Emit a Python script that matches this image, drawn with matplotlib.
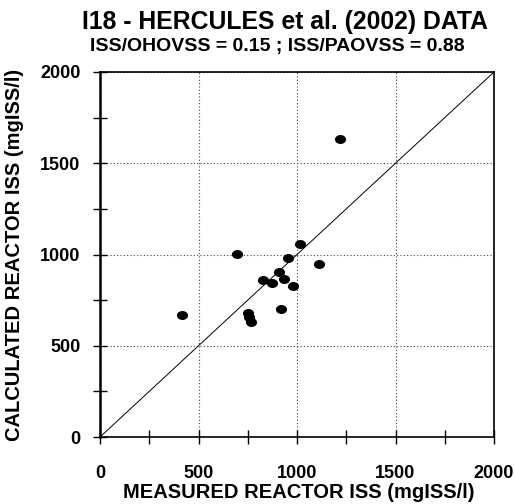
import numpy as np
import matplotlib
matplotlib.use("Agg")
import matplotlib.pyplot as plt
from matplotlib.path import Path
from matplotlib.transforms import Affine2D

# =========================
# 1. Data
# =========================
measured_iss = [415, 694, 1017, 956, 1113, 907, 932, 827, 873, 981, 919, 750, 755, 765, 1218]
calculated_iss = [668, 1003, 1056, 979, 950, 906, 867, 862, 844, 829, 701, 680, 658, 632, 1635]

axis_ticks = [0, 500, 1000, 1500, 2000]
minor_ticks = [250, 750, 1250, 1750]
one_to_one = [0, 2000]

title = "I18 - HERCULES et al. (2002) DATA"
subtitle = "ISS/OHOVSS = 0.15 ; ISS/PAOVSS = 0.88"
x_label = "MEASURED REACTOR ISS (mgISS/l)"
y_label = "CALCULATED REACTOR ISS (mgISS/l)"

plt.rcParams["font.family"] = ["Liberation Sans", "DejaVu Sans"]
plt.rcParams["font.weight"] = "bold"

# ================
# 2. Figure / axes
# ================
fig = plt.figure(figsize=(5.15, 5.04), dpi=100)
ax = fig.add_axes([100 / 515, (504 - 437) / 504, 394 / 515, 365 / 504])

# flattened ellipse marker
ellipse = Path.unit_circle().transformed(Affine2D().scale(1.0, 0.78))

ax.plot(one_to_one, one_to_one, color="black", lw=0.7, zorder=2)
ax.plot(measured_iss, calculated_iss, linestyle="none", marker=ellipse,
        markersize=7, color="black", zorder=3)

# ===================
# 3. Formatting graph
# ===================
ax.set_xlim(0, 2000)
ax.set_ylim(0, 2000)
ax.set_xticks(axis_ticks)
ax.set_yticks(axis_ticks)
ax.set_xticks(minor_ticks, minor=True)
ax.set_yticks(minor_ticks, minor=True)
ax.tick_params(which="both", direction="inout", length=10, width=1.0, top=False, right=False)
ax.tick_params(axis="x", which="major", pad=15, labelsize=13)
ax.tick_params(axis="y", which="major", pad=9, labelsize=13)
for lbl in ax.get_xticklabels() + ax.get_yticklabels():
    lbl.set_fontweight("bold")

ax.grid(True, which="major", linestyle=(0, (1, 2)), color="#444444", lw=0.8)
for sp in ax.spines.values():
    sp.set_linewidth(1.2)
ax.spines["left"].set_linewidth(1.8)

ax.set_xlabel(x_label, fontsize=14.5, fontweight="bold", va="center")
ax.xaxis.set_label_coords(0.505, -0.151)
ax.set_ylabel(y_label, fontsize=14.5, fontweight="bold", va="center")
ax.yaxis.set_label_coords(-0.216, 0.5)

fig.text(285 / 515, 1 - 22 / 504, title, ha="center", va="center", fontsize=17.8, fontweight="bold")
fig.text(277 / 515, 1 - 46 / 504, subtitle, ha="center", va="center", fontsize=14, fontweight="bold")

fig.savefig("out.png", dpi=100)
